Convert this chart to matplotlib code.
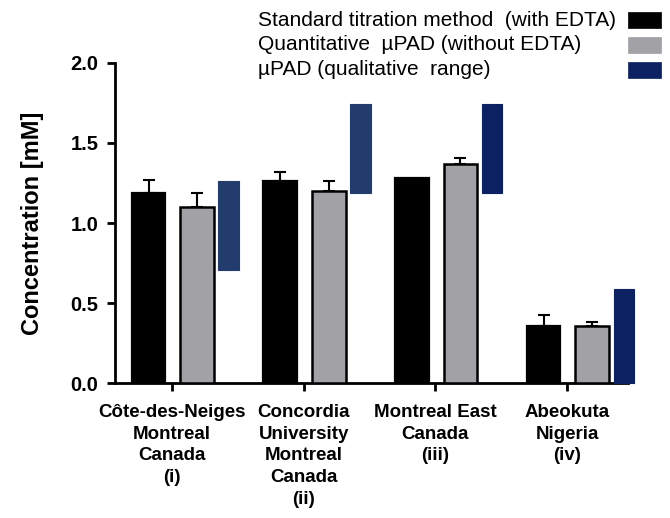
import numpy as np
import matplotlib
matplotlib.use('Agg')
import matplotlib.pyplot as plt
from matplotlib.patches import Rectangle

plt.rcParams['font.family'] = ['Liberation Sans', 'DejaVu Sans']

# data
sites = ['Côte-des-Neiges\nMontreal\nCanada\n(i)',
         'Concordia\nUniversity\nMontreal\nCanada\n(ii)',
         'Montreal East\nCanada\n(iii)',
         'Abeokuta\nNigeria\n(iv)']
std_titration = [1.19, 1.26, 1.28, 0.36]
std_err = [0.08, 0.06, 0.0, 0.07]
qpad = [1.10, 1.20, 1.37, 0.36]
qpad_err = [0.085, 0.065, 0.035, 0.025]
range_lo = [0.71, 1.19, 1.19, 0.0]
range_hi = [1.26, 1.74, 1.74, 0.59]

legend_labels = ['Standard titration method  (with EDTA)',
                 'Quantitative  µPAD (without EDTA)',
                 'µPAD (qualitative  range)']

BLACK = '#000000'
GREY = '#a2a2a6'
NAVY = '#0b2162'
NAVY_LIGHT = '#223c6e'
range_colors = [NAVY_LIGHT, NAVY_LIGHT, NAVY, NAVY]
legend_colors = [BLACK, GREY, NAVY]

W, H = 670, 518
fig = plt.figure(figsize=(W / 100, H / 100), dpi=100)
ax = fig.add_axes([0.1716, 0.2597, 0.7657, 0.6193])

x = np.arange(len(sites))
bw = 0.255

ax.bar(x - 0.178, std_titration, width=bw, color=BLACK, edgecolor=BLACK,
       linewidth=1.6, zorder=3)
ax.bar(x + 0.19, qpad, width=bw, color=GREY, edgecolor=BLACK,
       linewidth=1.8, zorder=3)

# upper error bars only
for xs, vals, errs in [(x - 0.178, std_titration, std_err),
                       (x + 0.19, qpad, qpad_err)]:
    for xi, v, e in zip(xs, vals, errs):
        if e > 0:
            ax.errorbar(xi, v, yerr=[[0], [e]], fmt='none', ecolor=BLACK,
                        elinewidth=1.5, capsize=4.3, capthick=1.5, zorder=2)

# qualitative range bars
heights = np.array(range_hi) - np.array(range_lo)
ax.bar(x + 0.43, heights, bottom=range_lo, width=0.155, color=range_colors,
       edgecolor=range_colors, linewidth=0.8, zorder=3, clip_on=False)

ax.set_xlim(-0.433, 3.462)
ax.set_ylim(0, 2.0)
ax.set_yticks([0.0, 0.5, 1.0, 1.5, 2.0])
ax.set_yticklabels(['0.0', '0.5', '1.0', '1.5', '2.0'])
ax.set_xticks(x)
ax.set_xticklabels(sites, fontsize=13.5, fontweight='bold', linespacing=1.35)
for lab in ax.get_yticklabels():
    lab.set_fontsize(14.5)
    lab.set_fontweight('bold')

ax.spines['top'].set_visible(False)
ax.spines['right'].set_visible(False)
ax.spines['left'].set_linewidth(2)
ax.spines['bottom'].set_linewidth(2)
ax.tick_params(axis='both', direction='out', length=6, width=2, pad=6,
               colors=BLACK)
ax.tick_params(axis='x', pad=9)

ax.set_ylabel('Concentration [mM]', fontsize=17, fontweight='bold',
              labelpad=19)

# legend: text left aligned, swatches on the right
for i, (lab, col) in enumerate(zip(legend_labels, legend_colors)):
    yc = 20 + i * 24.8
    fig.text(258 / W, 1 - yc / H, lab, fontsize=15, ha='left', va='center')
    fig.patches.append(Rectangle((628 / W, 1 - (yc + 8) / H), 33 / W, 16 / H,
                                 transform=fig.transFigure, facecolor=col,
                                 edgecolor=col, linewidth=0.5))

plt.savefig('out.png', dpi=100, facecolor='white')
plt.close()
